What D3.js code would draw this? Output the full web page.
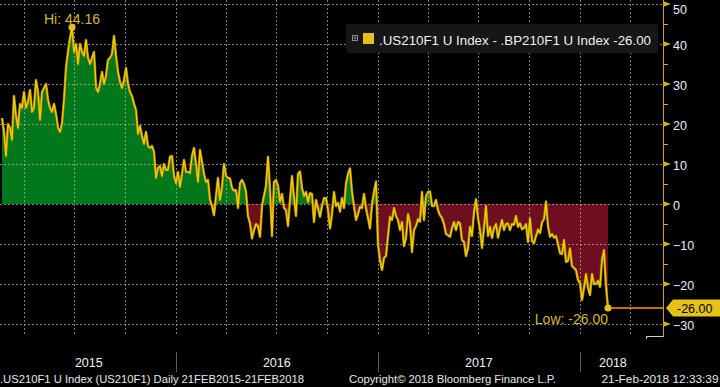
<!DOCTYPE html>
<html>
<head>
<meta charset="utf-8">
<script src="https://cdn.jsdelivr.net/npm/d3@7"></script>
<style>
  html, body { margin: 0; padding: 0; background: #000; }
  svg { display: block; font-family: "Liberation Sans", Arial, sans-serif; }
</style>
</head>
<body>
<svg id="chart" width="720" height="387"></svg>
<script>
// --- data (spread, every ~3.6 days) ---
const seriesName = ".US210F1 U Index - .BP210F1 U Index";
const startDate = "2015-02-21", endDate = "2018-02-21";

// Feb 2015 - Dec 2015
const spreadA = [
    21.5, 18, 12, 20, 19, 16, 27, 22, 19, 25,
    24, 28, 24, 25.5, 28.5, 23, 24, 31, 28, 21,
    28, 29, 30, 26, 24, 23, 25, 22.5, 19, 18,
    20, 26, 34, 38, 41.5, 44.16, 38, 40, 35, 40,
    38, 37, 41, 36.5, 35, 36.5, 38, 29, 28, 30,
    33, 30, 32, 36, 36.5, 37.5, 42, 37, 33, 30.5,
    29, 31, 34, 30, 28, 27, 25, 23.5, 17.5, 19.5,
    17, 15, 18, 14.5, 14, 14.5, 13, 6.5, 9, 9.5
];
// Dec 2015 - Aug 2016
const spreadB = [
    7, 10, 8.5, 8.5, 11.8, 12, 7, 5.2, 8, 4.3,
    7.5, 11, 8, 8, 7.7, 12, 14, 10, 5.5, 13.5,
    10.5, 7.5, 5.5, 6, 1, -0.5, -2.8, 2, 6.5, 1,
    4, 10, 7, 6.5, 6.4, 4, 3.3, 3.5, -1, 5.2,
    6, 5, 3, -3, -4.8, -8.6, -6.5, -5, -5.5, -8.2,
    -0.5, 2, 4.5, 11.8, 3.5, -8, 5.5, 6, 4.5, 0.6,
    2.5, -1, -1.5, -5.5, 1, 7, 1.5, -3, 7.5, 8.1,
    4, 2, 3, 0.5, 2.7
];
// Aug 2016 - Jul 2017
const spreadC = [
    2.5, -4.5, 1, -1, -3.2, -0.5, 1.5, 1.5, -1.5, -6.1,
    -2.5, 3, -0.5, 0.3, -1.9, 1.5, -1, 5, 7.5, 8.9,
    3, -0.5, -4, -2.5, -0.7, -1, 2.5, -1, -3.5, -6.1,
    0, 3, 5.6, -10, -14, -16.5, -13.5, -13, -8, -3.2,
    -4, -1, -3, -4, -6.5, -4.5, -10.5, -8.5, -2.5, -4.8,
    -12, -6.5, -5.5, -3.8, -4.4, 3, -4, 2, 3, 3.1,
    -0.5, -0.5, 1, -1.5, -2.8, -3.5, -5, -7.5, -7.8, -8.2,
    -6, -4.5, -6.5, -4.5, -4.8
];
// Jul 2017 - Feb 2018
const spreadD = [
    -9, -9.5, -13, -11, -5.7, -8, -2, 1.2, -3.5, -6.5,
    -11, -6, -0.5, -8, -5.7, -8.5, -6, -5, -8.4, -6.1,
    -4, -6.5, -5, -4.9, -6.5, -5, -5.2, -3, -5.7, -4.8,
    -6.3, -6, -5, -9.5, -3.6, -9.2, -9.8, -8, -6.4, -7.3,
    -4.6, -3.8, 0.6, -5.5, -8.2, -7.5, -8.4, -8, -10, -12.3,
    -12.5, -9, -14.5, -14.2, -11.1, -15.5, -16, -16.5, -19, -19.8,
    -24, -21, -17.5, -21, -22.75, -17.5, -20, -20, -19.2, -20.7,
    -14, -11.5, -20.5, -26
];

const yTicks = [-30, -20, -10, 0, 10, 20, 30, 40, 50];
const yMinorTicks = [-15, -5, 5, 15, 25, 35, 45];
const years = [2015, 2016, 2017, 2018];
const footerLeft = ".US210F1 U Index (US210F1)  Daily 21FEB2015-21FEB2018";
const footerMid = "Copyright\u00A9 2018 Bloomberg Finance L.P.";
const footerRight = "21-Feb-2018 12:33:39";

// --- setup ---
const svg = d3.select("#chart");
const axisX = 663, plotBottom = 336;

const t0 = new Date(startDate + "T00:00:00Z"), t1 = new Date(endDate + "T00:00:00Z");
const values = [].concat(spreadA, spreadB, spreadC, spreadD);
const data = values.map((v, i) => ({
    date: new Date(+t0 + (t1 - t0) * i / (values.length - 1)),
    value: v
}));

const x = d3.scaleUtc().domain([t0, t1]).range([2, 608]);
const y = d3.scaleLinear().domain([-33, 51]).range([plotBottom, 0]);

svg.append("rect").attr("width", 720).attr("height", 387).attr("fill", "#000");

const defs = svg.append("defs");
defs.append("clipPath").attr("id", "above")
    .append("rect").attr("x", 0).attr("y", 0).attr("width", axisX).attr("height", y(0));
defs.append("clipPath").attr("id", "below")
    .append("rect").attr("x", 0).attr("y", y(0)).attr("width", axisX).attr("height", plotBottom - y(0));

const area = d3.area()
    .x(d => x(d.date))
    .y0(y(0))
    .y1(d => y(d.value));

svg.append("path").datum(data)
    .attr("clip-path", "url(#above)")
    .attr("fill", "#02781d")
    .attr("d", area);

svg.append("path").datum(data)
    .attr("clip-path", "url(#below)")
    .attr("fill", "#6f0e20")
    .attr("d", area);

// --- grid ---
const grid = svg.append("g")
    .attr("stroke", "#b4b4b4")
    .attr("stroke-opacity", 0.7)
    .attr("stroke-dasharray", "2,2");

grid.selectAll(".hgrid")
    .data(yTicks)
    .enter()
    .append("line")
    .attr("x1", 0).attr("x2", axisX)
    .attr("y1", d => Math.round(y(d)) + 0.5)
    .attr("y2", d => Math.round(y(d)) + 0.5);

const quarters = d3.utcMonth.every(3).range(x.invert(0), x.invert(axisX));
grid.selectAll(".vgrid")
    .data(quarters)
    .enter()
    .append("line")
    .attr("x1", d => Math.round(x(d)) + 0.5)
    .attr("x2", d => Math.round(x(d)) + 0.5)
    .attr("y1", 0).attr("y2", plotBottom);

// --- line ---
const line = d3.line()
    .x(d => x(d.date))
    .y(d => y(d.value));

svg.append("path").datum(data)
    .attr("fill", "none")
    .attr("stroke", "#8c7400")
    .attr("stroke-width", 2.6)
    .attr("stroke-linejoin", "round")
    .attr("d", line);

svg.append("path").datum(data)
    .attr("fill", "none")
    .attr("stroke", "#f2c800")
    .attr("stroke-width", 1.5)
    .attr("stroke-linejoin", "round")
    .attr("d", line);

// --- hi / low markers ---
const hi = data[d3.maxIndex(data, d => d.value)];
const last = data[data.length - 1];

svg.append("circle")
    .attr("cx", x(hi.date)).attr("cy", y(hi.value))
    .attr("r", 3.5).attr("fill", "#e8c20a");
svg.append("text")
    .attr("x", x(hi.date)).attr("y", y(hi.value) - 3)
    .attr("text-anchor", "middle")
    .attr("font-size", 14)
    .attr("fill", "#d8b628")
    .text("Hi: " + hi.value.toFixed(2));

svg.append("line")
    .attr("x1", x(last.date)).attr("x2", axisX)
    .attr("y1", y(last.value)).attr("y2", y(last.value))
    .attr("stroke", "#f39a00")
    .attr("stroke-width", 1.5);
svg.append("circle")
    .attr("cx", x(last.date)).attr("cy", y(last.value))
    .attr("r", 3.5).attr("fill", "#e8c20a");
svg.append("text")
    .attr("x", x(last.date)).attr("y", y(last.value) + 16)
    .attr("text-anchor", "end")
    .attr("font-size", 14)
    .attr("fill", "#d8b628")
    .text("Low: " + last.value.toFixed(2));

// --- legend ---
const legend = svg.append("g");
legend.append("rect")
    .attr("x", 346).attr("y", 24).attr("width", 312).attr("height", 29)
    .attr("rx", 3).attr("fill", "#161616");
legend.append("rect")
    .attr("x", 352.5).attr("y", 35.5).attr("width", 5).attr("height", 5)
    .attr("fill", "none").attr("stroke", "#8a8a8a");
legend.append("path")
    .attr("d", "M353.5,38H356.5M355,36.5V39.5")
    .attr("stroke", "#8a8a8a");
legend.append("rect")
    .attr("x", 363).attr("y", 33).attr("width", 11).attr("height", 11)
    .attr("fill", "#e3c01c");
legend.append("text")
    .attr("x", 379).attr("y", 44.5)
    .attr("font-size", 13)
    .attr("fill", "#f0f0f0")
    .attr("textLength", 272)
    .attr("lengthAdjust", "spacingAndGlyphs")
    .text(seriesName + " " + last.value.toFixed(2));

// --- right axis ---
const axis = svg.append("g");
axis.append("line")
    .attr("x1", axisX + 0.5).attr("x2", axisX + 0.5)
    .attr("y1", 0).attr("y2", plotBottom + 1)
    .attr("stroke", "#c9a416");

axis.selectAll(".tri")
    .data(yTicks)
    .enter()
    .append("path")
    .attr("d", d => {
        const ty = y(d);
        return `M${axisX + 1},${ty - 2.5}L${axisX + 8},${ty}L${axisX + 1},${ty + 2.5}Z`;
    })
    .attr("fill", "#d8b21a");

axis.selectAll(".minor")
    .data(yMinorTicks)
    .enter()
    .append("line")
    .attr("x1", axisX + 1).attr("x2", axisX + 5)
    .attr("y1", d => Math.round(y(d)) + 0.5)
    .attr("y2", d => Math.round(y(d)) + 0.5)
    .attr("stroke", "#d8b21a");

axis.selectAll(".lab")
    .data(yTicks)
    .enter()
    .append("text")
    .attr("x", axisX + 10)
    .attr("y", d => Math.max(y(d) + 1, 9))
    .attr("dy", "0.36em")
    .attr("font-size", 12.5)
    .attr("fill", "#e6eeff")
    .text(d => d < 0 ? "\u2212" + Math.abs(d) : d);

// current value tag
const ly = y(last.value);
axis.append("path")
    .attr("d", `M${axisX + 3},${ly}L${axisX + 10},${ly - 8.5}H720V${ly + 8.5}H${axisX + 10}Z`)
    .attr("fill", "#e4c21a");
axis.append("text")
    .attr("x", axisX + 14).attr("y", ly)
    .attr("dy", "0.36em")
    .attr("font-size", 12.5)
    .attr("fill", "#000")
    .text(last.value.toFixed(2));

// small piece of bottom axis at the right end
axis.append("path")
    .attr("d", `M646.5,${plotBottom + 3}V${plotBottom + 0.5}H${axisX}`)
    .attr("fill", "none")
    .attr("stroke", "#d0d0d0");

// --- bottom: years and footer ---
const xEnd = 646;
const bottom = svg.append("g");
bottom.selectAll(".yr")
    .data(years)
    .enter()
    .append("text")
    .attr("x", d => {
        const a = Math.max(x(new Date(Date.UTC(d, 0, 1))), 2);
        const b = Math.min(x(new Date(Date.UTC(d + 1, 0, 1))), xEnd);
        return (a + b) / 2;
    })
    .attr("y", 367)
    .attr("text-anchor", "middle")
    .attr("font-size", 12.5)
    .attr("fill", "#f2f2f2")
    .text(d => d);

bottom.selectAll(".sep")
    .data(years.slice(1))
    .enter()
    .append("line")
    .attr("x1", d => Math.round(x(new Date(Date.UTC(d, 0, 1)))) + 0.5)
    .attr("x2", d => Math.round(x(new Date(Date.UTC(d, 0, 1)))) + 0.5)
    .attr("y1", 352).attr("y2", 372)
    .attr("stroke", "#5c5c5c");

const footer = [
    { text: footerLeft, x: 0, len: 304 },
    { text: footerMid, x: 349, len: 207 },
    { text: footerRight, x: 601.5, len: 117 }
];
bottom.selectAll(".foot")
    .data(footer)
    .enter()
    .append("text")
    .attr("x", d => d.x)
    .attr("y", 383)
    .attr("font-size", 11.5)
    .attr("fill", "#e8e8e8")
    .attr("textLength", d => d.len)
    .attr("lengthAdjust", "spacingAndGlyphs")
    .text(d => d.text);
</script>
</body>
</html>
